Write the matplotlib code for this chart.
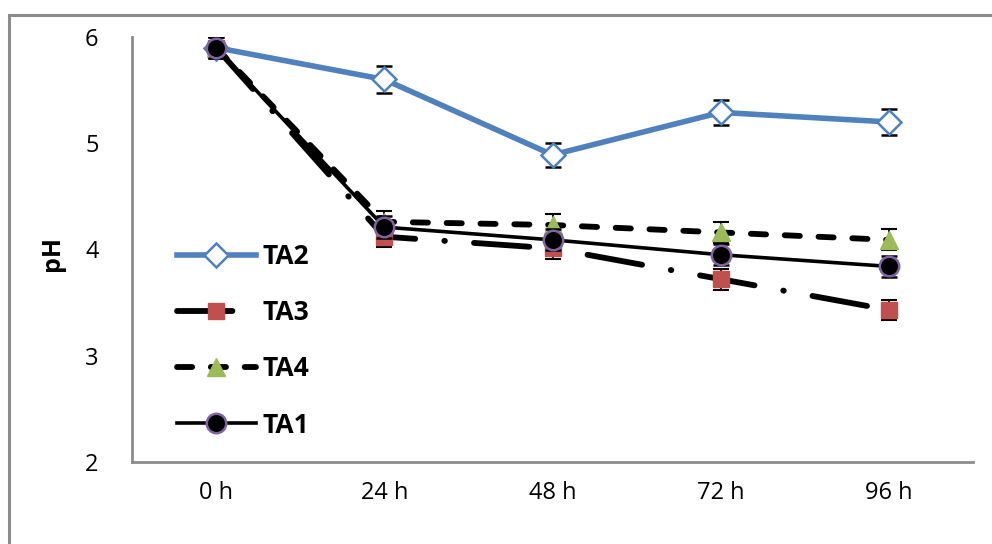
import numpy as np
import matplotlib.pyplot as plt
from matplotlib.patches import Rectangle

plt.rcParams['font.family'] = ['Open Sans', 'DejaVu Sans']

hours = ['0 h', '24 h', '48 h', '72 h', '96 h']
ta2 = [5.9, 5.6, 4.89, 5.29, 5.2]
ta3 = [5.9, 4.12, 4.01, 3.72, 3.43]
ta4 = [5.9, 4.26, 4.23, 4.16, 4.09]
ta1 = [5.9, 4.21, 4.09, 3.95, 3.84]
ta2_err = [0.1, 0.13, 0.11, 0.12, 0.12]
ta3_err = [0.1, 0.1, 0.1, 0.1, 0.09]
ta4_err = [0.1, 0.1, 0.1, 0.1, 0.1]
ta1_err = [0.1, 0.1, 0.1, 0.1, 0.1]

fig = plt.figure(figsize=(9.92, 5.44), dpi=100)
ax = fig.add_axes([0.133, 0.151, 0.848, 0.781])

# outer chart frame
fig.patches.append(Rectangle((0.009, -0.05), 1.1, 1.022, transform=fig.transFigure,
                             fill=False, edgecolor='#8c8c8c', linewidth=2.2))

x = np.arange(len(hours))
eb = dict(ecolor='black', elinewidth=1.3, capsize=6, capthick=1.5)

c2 = ax.errorbar(x, ta2, yerr=ta2_err, color='#4F81BD', lw=4, marker='D', ms=12,
                 mfc='white', mec='#4F81BD', mew=1.8, zorder=3, **eb)
c3 = ax.errorbar(x, ta3, yerr=ta3_err, color='black', lw=4.2, marker='s', ms=11,
                 mfc='#C0504D', mec='#C0504D', zorder=3, **eb)
c3[0].set_dashes([9.5, 5, 0.1, 5])
c3[0].set_dash_capstyle('round')
c4 = ax.errorbar(x, ta4, yerr=ta4_err, color='black', lw=4.2, marker='^', ms=13,
                 mfc='#9BBB59', mec='#9BBB59', zorder=3, **eb)
c4[0].set_dashes([2.6, 3.2])
c4[0].set_dash_capstyle('round')
c1 = ax.errorbar(x, ta1, yerr=ta1_err, color='black', lw=2.6, marker='o', ms=14,
                 mfc='black', mec='#8064A2', mew=1.8, zorder=4, **eb)

ax.set_xlim(-0.5, 4.5)
ax.set_ylim(2, 6)
ax.set_yticks([2, 3, 4, 5, 6])
ax.set_xticks(x)
ax.set_xticklabels(hours)
ax.tick_params(axis='both', length=0, labelsize=17, pad=14)
ax.tick_params(axis='y', pad=24)
for s in ['top', 'right']:
    ax.spines[s].set_visible(False)
for s in ['left', 'bottom']:
    ax.spines[s].set_color('#8c8c8c')
    ax.spines[s].set_linewidth(2)
ax.set_ylabel('pH', fontsize=18, fontweight='bold')
ax.yaxis.set_label_coords(-0.08, 0.49)

ax.legend([c2[0], c3[0], c4[0], c1[0]], ['TA2', 'TA3', 'TA4', 'TA1'],
          loc='upper left', bbox_to_anchor=(0.025, 0.57), frameon=False,
          handlelength=3.0, labelspacing=1.1, handletextpad=0.25,
          prop={'size': 19, 'weight': 'bold'})

fig.savefig('out.png', dpi=100)
